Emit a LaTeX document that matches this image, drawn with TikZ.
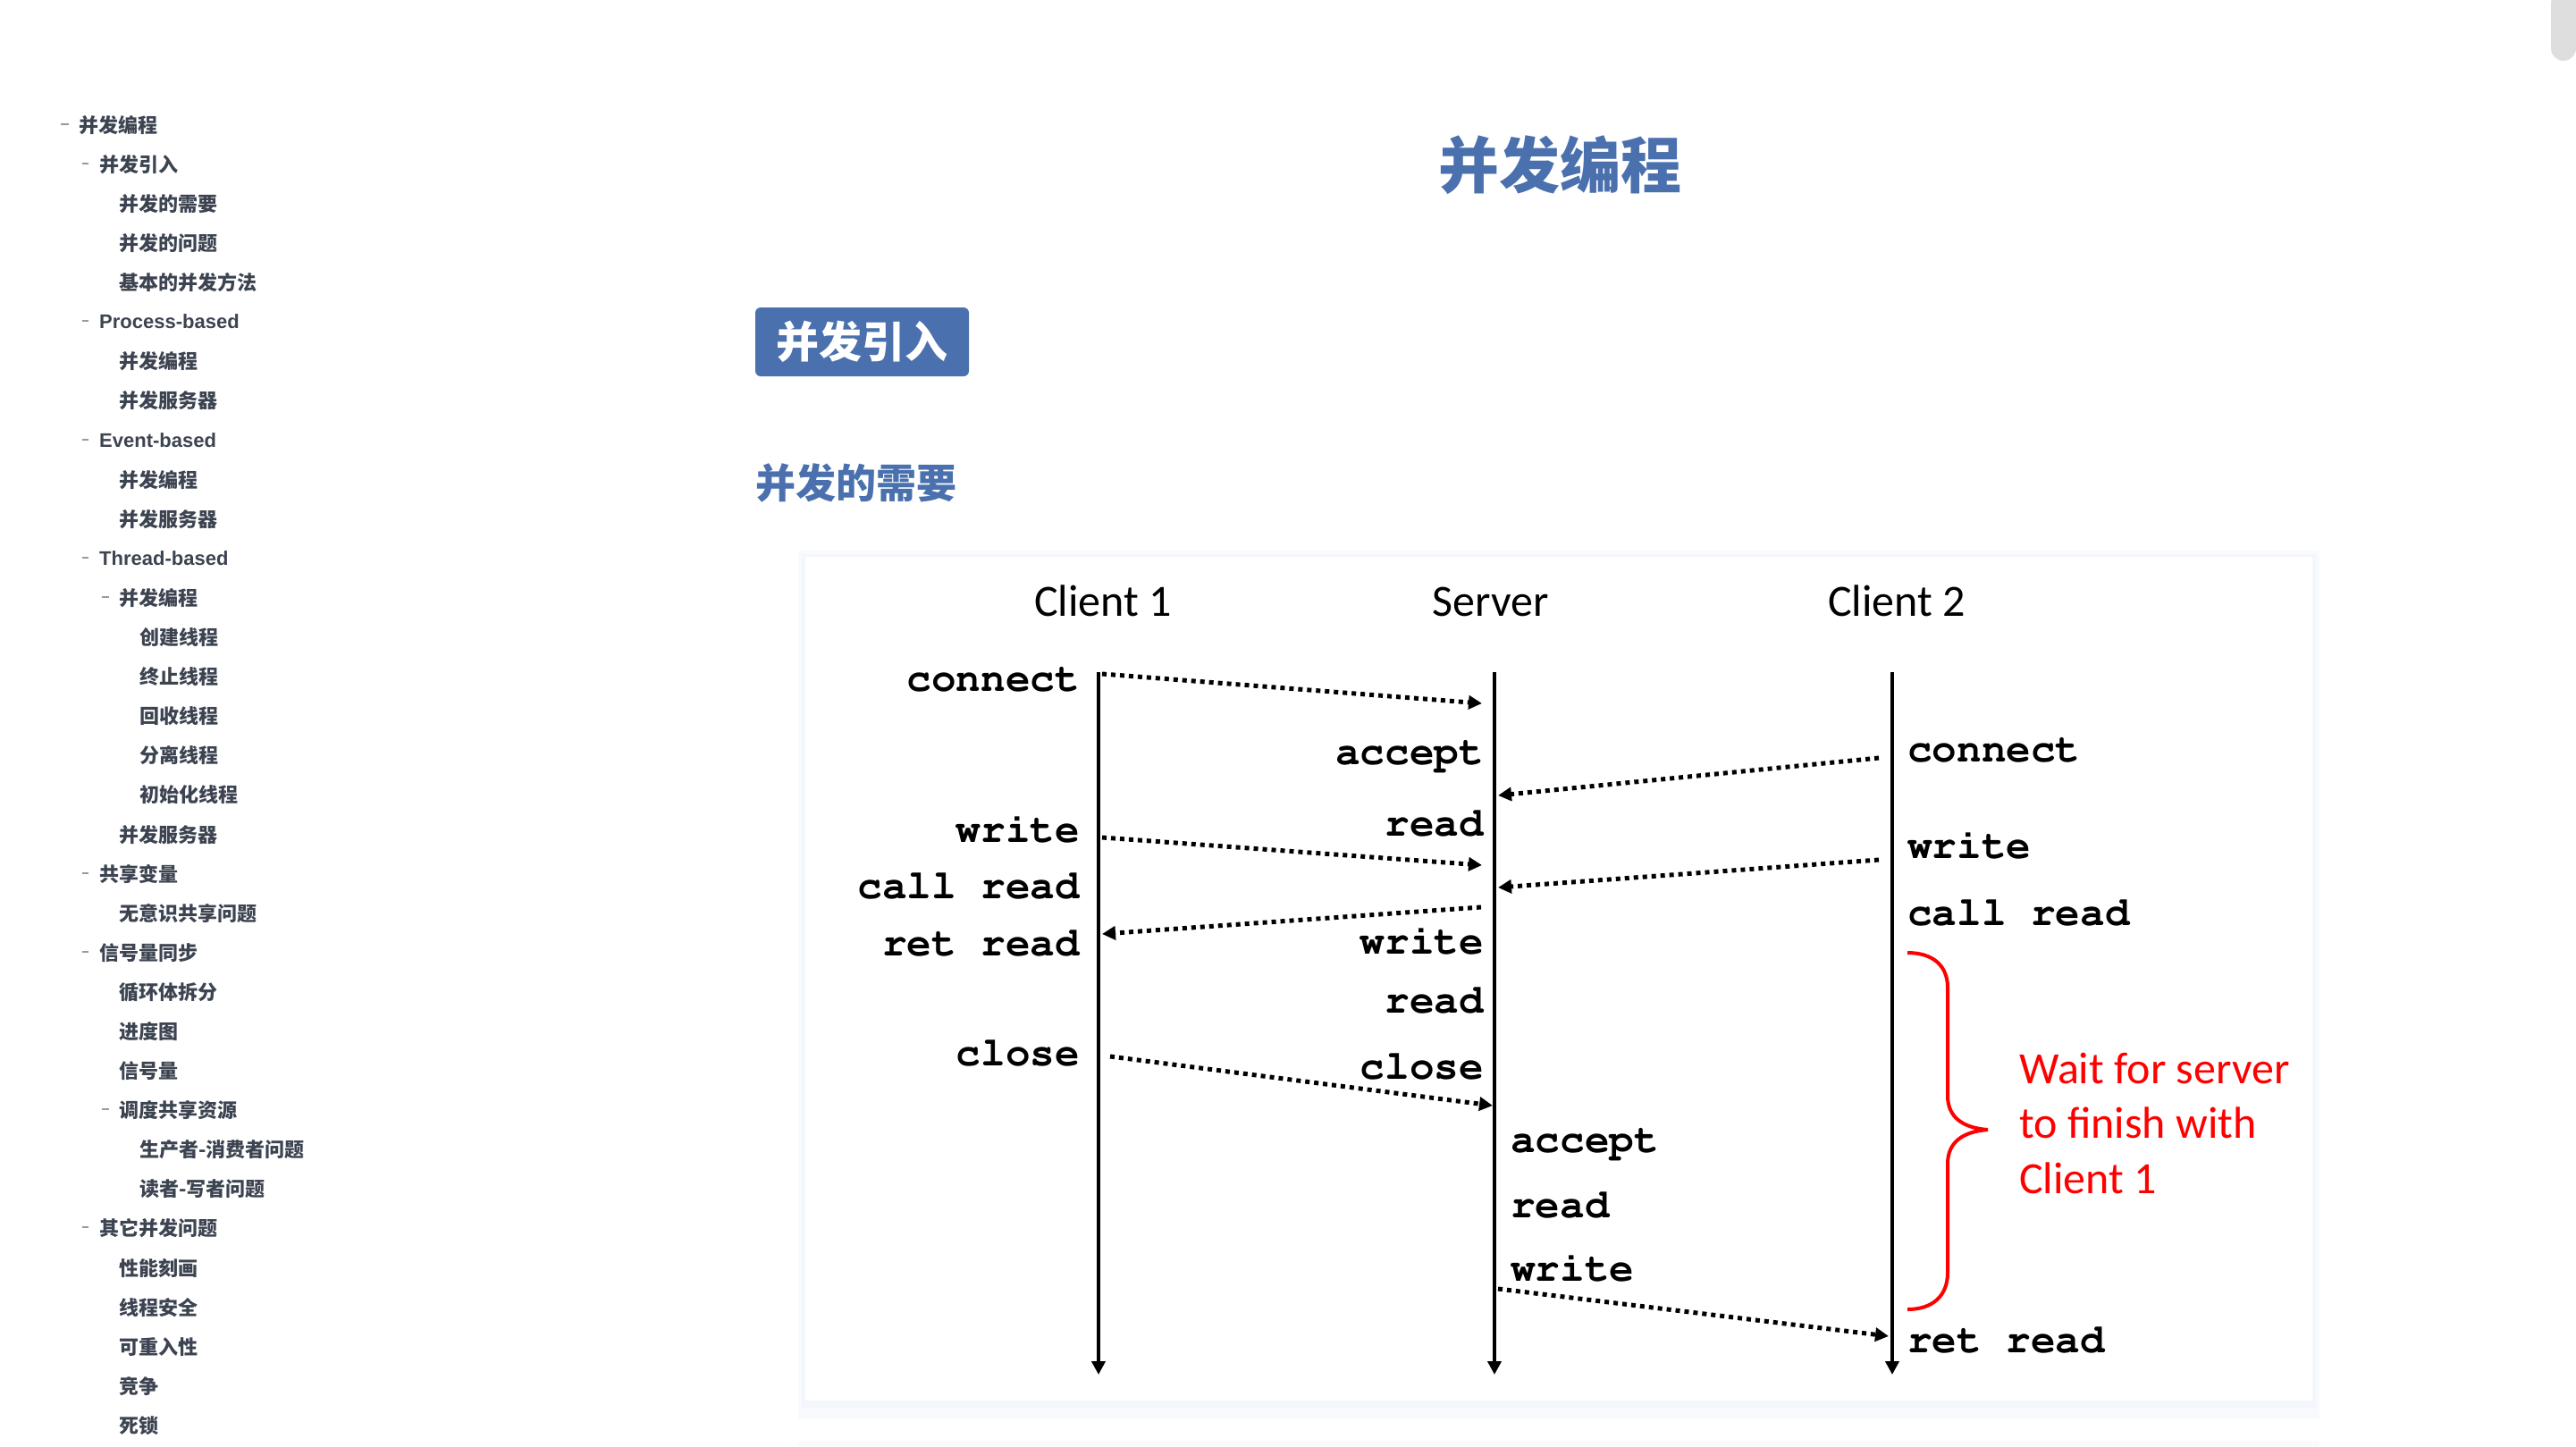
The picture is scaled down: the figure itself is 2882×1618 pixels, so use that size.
\documentclass[tikz,border=0pt]{standalone}
\usepackage[T1]{fontenc}
\usepackage{fontspec}
\setmainfont{Liberation Sans}
\newfontfamily\cjk{Noto Sans CJK SC}
\newfontfamily\cali{Carlito}
\newcommand\courb{\fontencoding{T1}\fontfamily{pcr}\fontseries{b}\selectfont}
\usetikzlibrary{arrows.meta}
\definecolor{hblue}{HTML}{4A70AE}
\definecolor{tocgray}{HTML}{3D4451}
\definecolor{dashgray}{HTML}{9A9A9A}
\definecolor{shadowc}{HTML}{E6ECF8}
\definecolor{scrollgray}{HTML}{DEDEDE}

\begin{document}
\begin{tikzpicture}[x=1pt, y=-1pt,
  >={Triangle[length=15pt,width=15pt]},
  toc/.style={anchor=west, inner sep=0pt, text=tocgray, font=\cjk\bfseries\fontsize{22}{26}\selectfont},
  toclat/.style={toc, font=\rmfamily\bfseries\fontsize{22}{26}\selectfont},
  tocdash/.style={draw=dashgray, line width=1.2pt},
  hdr/.style={anchor=base, inner sep=0pt, font=\cali\fontsize{50}{60}\selectfont},
  lblr/.style={anchor=base east, inner sep=0pt, font=\courb\fontsize{46}{50}\selectfont},
  lbll/.style={lblr, anchor=base west},
  life/.style={->, line width=4.5pt},
  msg/.style={->, line width=5pt, dash pattern=on 5pt off 5pt},
  note/.style={anchor=base west, inner sep=0pt, text=red, font=\cali\fontsize{50}{60}\selectfont}]
\useasboundingbox (0,0) rectangle (2882,1618);

% sidebar
\draw[tocdash] (68,139) -- (77,139);
\node[toc] (t0) at (88,140) {并发编程};
\draw[tocdash] (92,183) -- (99,183);
\node[toc] (t1) at (111,184) {并发引入};
\node[toc] (t2) at (133,228) {并发的需要};
\node[toc] (t3) at (133,272) {并发的问题};
\node[toc] (t4) at (133,316) {基本的并发方法};
\draw[tocdash] (92,359) -- (99,359);
\node[toclat] (t5) at (111,360) {Process-based};
\node[toc] (t6) at (133,404) {并发编程};
\node[toc] (t7) at (133,448) {并发服务器};
\draw[tocdash] (92,492) -- (99,492);
\node[toclat] (t8) at (111,493) {Event-based};
\node[toc] (t9) at (133,537) {并发编程};
\node[toc] (t10) at (133,581) {并发服务器};
\draw[tocdash] (92,624) -- (99,624);
\node[toclat] (t11) at (111,625) {Thread-based};
\draw[tocdash] (114,668) -- (122,668);
\node[toc] (t12) at (133,669) {并发编程};
\node[toc] (t13) at (156,713) {创建线程};
\node[toc] (t14) at (156,757) {终止线程};
\node[toc] (t15) at (156,801) {回收线程};
\node[toc] (t16) at (156,845) {分离线程};
\node[toc] (t17) at (156,889) {初始化线程};
\node[toc] (t18) at (133,934) {并发服务器};
\draw[tocdash] (92,977) -- (99,977);
\node[toc] (t19) at (111,978) {共享变量};
\node[toc] (t20) at (133,1022) {无意识共享问题};
\draw[tocdash] (92,1065) -- (99,1065);
\node[toc] (t21) at (111,1066) {信号量同步};
\node[toc] (t22) at (133,1110) {循环体拆分};
\node[toc] (t23) at (133,1154) {进度图};
\node[toc] (t24) at (133,1198) {信号量};
\draw[tocdash] (114,1241) -- (122,1241);
\node[toc] (t25) at (133,1242) {调度共享资源};
\node[toc] (t26) at (156,1286) {生产者-消费者问题};
\node[toc] (t27) at (156,1330) {读者-写者问题};
\draw[tocdash] (92,1373) -- (99,1373);
\node[toc] (t28) at (111,1374) {其它并发问题};
\node[toc] (t29) at (133,1419) {性能刻画};
\node[toc] (t30) at (133,1463) {线程安全};
\node[toc] (t31) at (133,1507) {可重入性};
\node[toc] (t32) at (133,1551) {竞争};
\node[toc] (t33) at (133,1595) {死锁};

% headings
\node[text=hblue, inner sep=0pt, font=\cjk\bfseries\fontsize{68}{80}\selectfont] (title) at (1745,185) {并发编程};
\node[fill=hblue, rounded corners=6pt, minimum width=239pt, minimum height=77pt, inner sep=0pt,
  text=white, font=\cjk\bfseries\fontsize{48}{56}\selectfont] (intro) at (964.5,382.5) {并发引入};
\node[anchor=west, inner sep=0pt, text=hblue, font=\cjk\bfseries\fontsize{45}{52}\selectfont] (need) at (845,540) {并发的需要};

% panel
\fill[shadowc!25] (893,616) rectangle (2595,1588);
\fill[shadowc!50] (897,620) rectangle (2591,1576);
\fill[white] (901,623) rectangle (2587,1567);
\fill[shadowc!25] (893,1612) rectangle (2595,1618);

% lifelines
\node[hdr] (c1h) at (1234,689) {Client 1};
\node[hdr] (srvh) at (1668,689) {Server};
\node[hdr] (c2h) at (2122,689) {Client 2};
\coordinate (c1top) at (1229,752);
\coordinate (c1end) at (1229,1538);
\coordinate (srvtop) at (1672,752);
\coordinate (srvend) at (1672,1538);
\coordinate (c2top) at (2117,752);
\coordinate (c2end) at (2117,1538);
\draw[life] (c1top) -- (c1end);
\draw[life] (srvtop) -- (srvend);
\draw[life] (c2top) -- (c2end);

% client 1
\node[lblr] (c1conn) at (1208,773) {connect};
\node[lblr] (c1write) at (1208,942) {write};
\node[lblr] (c1call) at (1208,1005) {call read};
\node[lblr] (c1ret) at (1208,1069) {ret read};
\node[lblr] (c1close) at (1208,1192) {close};

% server
\node[lblr] (sacc) at (1660,855) {accept};
\node[lblr] (sread) at (1660,935) {read};
\node[lblr] (swrite) at (1660,1067) {write};
\node[lblr] (sread2) at (1660,1133) {read};
\node[lblr] (sclose) at (1660,1207) {close};
\node[lbll] (sacc2) at (1690,1289) {accept};
\node[lbll] (sread3) at (1690,1362) {read};
\node[lbll] (swrite2) at (1690,1433) {write};

% client 2
\node[lbll] (c2conn) at (2134,852) {connect};
\node[lbll] (c2write) at (2134,960) {write};
\node[lbll] (c2call) at (2134,1035) {call read};
\node[lbll] (c2ret) at (2134,1513) {ret read};

% messages
\coordinate (m1a) at (1233,754);
\coordinate (m1b) at (1658,787);
\coordinate (m2a) at (2102,848);
\coordinate (m2b) at (1676,890);
\coordinate (m3a) at (1233,937);
\coordinate (m3b) at (1658,968);
\coordinate (m4a) at (2102,962);
\coordinate (m4b) at (1676,993);
\coordinate (m5a) at (1657,1015);
\coordinate (m5b) at (1233,1045);
\coordinate (m6a) at (1242,1182);
\coordinate (m6b) at (1670,1237);
\coordinate (m7a) at (1676,1442);
\coordinate (m7b) at (2113,1495);
\draw[msg] (m1a) -- (m1b);
\draw[msg] (m2a) -- (m2b);
\draw[msg] (m3a) -- (m3b);
\draw[msg] (m4a) -- (m4b);
\draw[msg] (m5a) -- (m5b);
\draw[msg] (m6a) -- (m6b);
\draw[msg] (m7a) -- (m7b);

% wait brace
\draw[red, line width=4pt] (2134,1066) .. controls (2162,1066) and (2179,1080) .. (2179,1105)
  -- (2179,1226) .. controls (2179,1250) and (2196,1262) .. (2224,1264)
  .. controls (2196,1266) and (2179,1278) .. (2179,1302)
  -- (2179,1424) .. controls (2179,1450) and (2162,1465) .. (2134,1465);
\node[note] (note1) at (2259,1212) {Wait for server};
\node[note] (note2) at (2259,1273) {to finish with};
\node[note] (note3) at (2259,1335) {Client 1};

% scrollbar
\fill[scrollgray, rounded corners=14pt] (2854,-10) rectangle (2882,68);
\end{tikzpicture}
\end{document}
